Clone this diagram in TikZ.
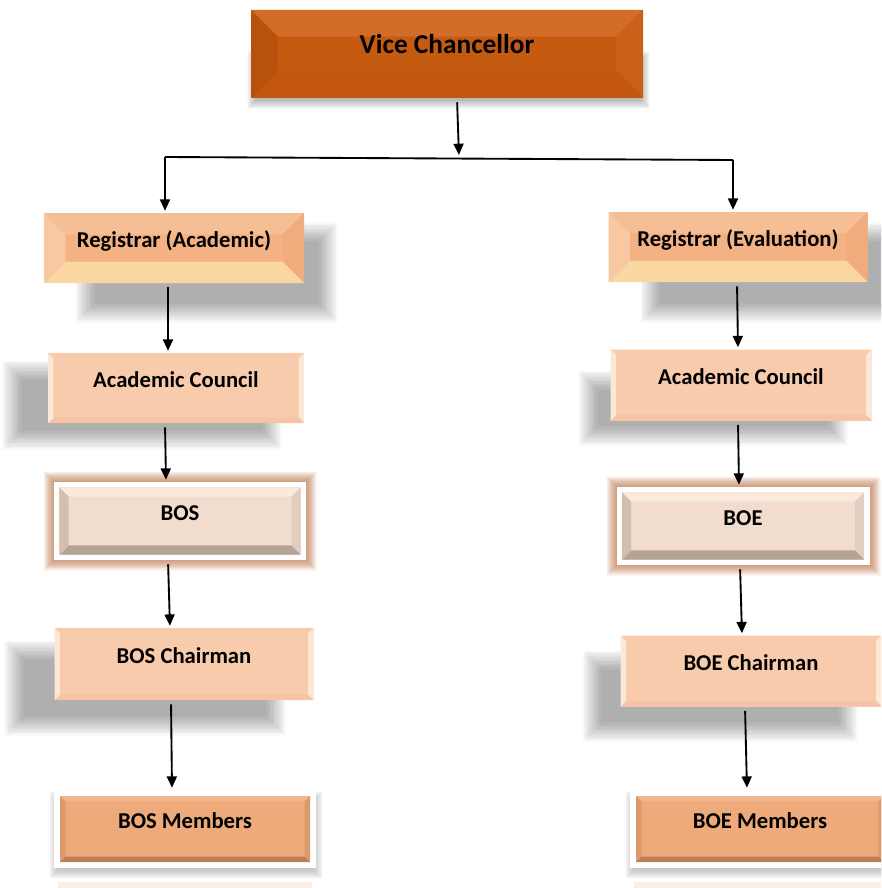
\documentclass[tikz,border=0pt]{standalone}
\usepackage{fontspec}
\setmainfont{Carlito}
\usetikzlibrary{arrows.meta}

\definecolor{vcfill}{HTML}{C55A11}
\definecolor{vctop}{HTML}{D26C28}
\definecolor{vcleft}{HTML}{B8500E}
\definecolor{vcright}{HTML}{C9601A}
\definecolor{vcbottom}{HTML}{C3570F}
\definecolor{regfill}{HTML}{F4B183}
\definecolor{regtop}{HTML}{F6BE94}
\definecolor{regleft}{HTML}{F8C8A2}
\definecolor{regright}{HTML}{F0AC7C}
\definecolor{regbottom}{HTML}{FAD6A0}
\definecolor{cnfill}{HTML}{F8CBAD}
\definecolor{cnside}{HTML}{FDE8D8}
\definecolor{cnbottom}{HTML}{F5C4A4}
\definecolor{bdfill}{HTML}{F2DCCE}
\definecolor{bdtop}{HTML}{FAEADD}
\definecolor{bdleft}{HTML}{D4BEAE}
\definecolor{bdright}{HTML}{E2CEC1}
\definecolor{bdbottom}{HTML}{B3A496}
\definecolor{glowbrown}{HTML}{B0602E}
\definecolor{mbfill}{HTML}{EEAA7B}
\definecolor{mbtop}{HTML}{F2B68C}
\definecolor{mbside}{HTML}{DB9A6C}
\definecolor{mbbottom}{HTML}{B97E55}
\definecolor{stripfill}{HTML}{FDEEE5}

\def\blurbox[#1](#2,#3)(#4,#5:#6){\foreach \k in {0,...,15}{\fill[#1] ({#2-\k*#6},{#3-\k*#6}) rectangle ({#4+\k*#6},{#5+\k*#6});}}

% inset, depth, fill, top, right, bottom, left
\newcommand{\bevelpaint}[7]{%
  \coordinate (bvA) at ([xshift=#1,yshift=-#1]path picture bounding box.north west);
  \coordinate (bvB) at ([xshift=-#1,yshift=-#1]path picture bounding box.north east);
  \coordinate (bvC) at ([xshift=-#1,yshift=#1]path picture bounding box.south east);
  \coordinate (bvD) at ([xshift=#1,yshift=#1]path picture bounding box.south west);
  \fill[#3] (bvA) rectangle (bvC);
  \fill[#4] (bvA) -- (bvB) -- ([xshift=-#2,yshift=-#2]bvB) -- ([xshift=#2,yshift=-#2]bvA) -- cycle;
  \fill[#5] (bvB) -- (bvC) -- ([xshift=-#2,yshift=#2]bvC) -- ([xshift=-#2,yshift=-#2]bvB) -- cycle;
  \fill[#6] (bvC) -- (bvD) -- ([xshift=#2,yshift=#2]bvD) -- ([xshift=-#2,yshift=#2]bvC) -- cycle;
  \fill[#7] (bvD) -- (bvA) -- ([xshift=#2,yshift=-#2]bvA) -- ([xshift=#2,yshift=#2]bvD) -- cycle;
}

\tikzset{
  boxsize/.style 2 args={minimum width=#1*0.75pt, minimum height=#2*0.75pt},
  orgbox/.style={inner sep=0pt, font=\bfseries\fontsize{17}{18}\selectfont, text height=11pt, text depth=12pt},
  vcbox/.style={orgbox, font=\bfseries\fontsize{20.5}{22}\selectfont, text height=12pt, text depth=12pt,
    path picture={\bevelpaint{0pt}{20pt}{vcfill}{vctop}{vcright}{vcbottom}{vcleft}}},
  regbox/.style={orgbox, path picture={\bevelpaint{0pt}{16pt}{regfill}{regtop}{regright}{regbottom}{regleft}}},
  councilbox/.style={orgbox, path picture={\bevelpaint{0pt}{4pt}{cnfill}{cnfill}{cnside}{cnbottom}{cnside}}},
  boardbox/.style={orgbox, fill=white, path picture={\bevelpaint{4pt}{7pt}{bdfill}{bdtop}{bdright}{bdbottom}{bdleft}}},
  memberbox/.style={orgbox, fill=white, path picture={\bevelpaint{4.5pt}{4pt}{mbfill}{mbtop}{mbside}{mbbottom}{mbside}}},
  arr/.style={-{Triangle[width=7.5pt,length=8.5pt]}, line width=1.4pt, shorten <=3pt, shorten >=1.5pt},
  barline/.style={line width=1.4pt}
}

\begin{document}
\begin{tikzpicture}[x=0.75pt,y=-0.75pt]
  \useasboundingbox (0,0) rectangle (881,888);
  \clip (0,0) rectangle (881,888);

  %%% shadows and glows
  \blurbox[black,opacity=0.02](256,60)(641,100:0.6)
  \blurbox[black,opacity=0.024](95,242)(318,303:1.3)
  \blurbox[black,opacity=0.024](660,242)(880,303:1.3)
  \blurbox[black,opacity=0.024](22,380)(262,430:1.3)
  \blurbox[black,opacity=0.024](598,390)(828,426:1.3)
  \blurbox[black,opacity=0.024](24,660)(266,716:1.3)
  \blurbox[black,opacity=0.024](602,670)(838,722:1.3)
  \blurbox[glowbrown,opacity=0.06](54,482)(306,560:0.7)
  \blurbox[glowbrown,opacity=0.06](617,487)(870,565:0.7)
  \blurbox[black,opacity=0.016](58,800)(314,870:0.6)
  \blurbox[black,opacity=0.016](634,800)(890,870:0.6)

  %%% faint row below
  \fill[stripfill] (58,882) rectangle (312,890);
  \fill[stripfill] (634,882) rectangle (890,890);

  %%% boxes
  \node[vcbox, boxsize={392}{88}] (vc) at (447,54) {Vice Chancellor};

  \node[regbox, boxsize={260}{70}] (ra) at (174,248) {Registrar (Academic)};
  \node[regbox, boxsize={259}{70}] (re) at (738,247) {Registrar (Evaluation)};

  \node[councilbox, boxsize={256}{70}] (acl) at (176,388) {Academic Council};
  \node[councilbox, boxsize={261}{71}] (acr) at (741,385) {Academic Council};

  \node[boardbox, boxsize={252}{78}] (bos) at (180,521) {BOS};
  \node[boardbox, boxsize={253}{78}] (boe) at (743,526) {BOE};

  \node[councilbox, boxsize={259}{72}] (bosc) at (184,664) {BOS Chairman};
  \node[councilbox, boxsize={261}{71}] (boec) at (751,671) {BOE Chairman};

  \node[memberbox, boxsize={262}{78}] (bosm) at (185,829) {BOS Members};
  \node[memberbox, boxsize={260}{78}] (boem) at (760,829) {BOE Members};

  %%% connectors
  \coordinate (bar) at (459,157);
  \coordinate (barl) at (165,157);
  \coordinate (barr) at (733,160);

  \draw[arr] ([shift={(10,0)}]vc.south) -- (bar);
  \draw[barline] (barl) -- (barr);
  \draw[arr, shorten <=0pt] (barl) -- (barl |- ra.north);
  \draw[arr, shorten <=0pt] (barr) -- (barr |- re.north);

  \draw[arr] ([shift={(-6,0)}]ra.south) -- ([shift={(-8,0)}]acl.north);
  \draw[arr] ([shift={(-11,0)}]acl.south) -- ([shift={(-14,0)}]bos.north);
  \draw[arr] ([shift={(-12,0)}]bos.south) -- ([shift={(-14,0)}]bosc.north);
  \draw[arr] ([shift={(-13,0)}]bosc.south) -- ([shift={(-13,0)}]bosm.north);

  \draw[arr] ([shift={(-1,0)}]re.south) -- ([shift={(-3,0)}]acr.north);
  \draw[arr] ([shift={(-3,0)}]acr.south) -- ([shift={(-4,0)}]boe.north);
  \draw[arr] ([shift={(-3,0)}]boe.south) -- ([shift={(-9,0)}]boec.north);
  \draw[arr] ([shift={(-6,0)}]boec.south) -- ([shift={(-13,0)}]boem.north);
\end{tikzpicture}
\end{document}
